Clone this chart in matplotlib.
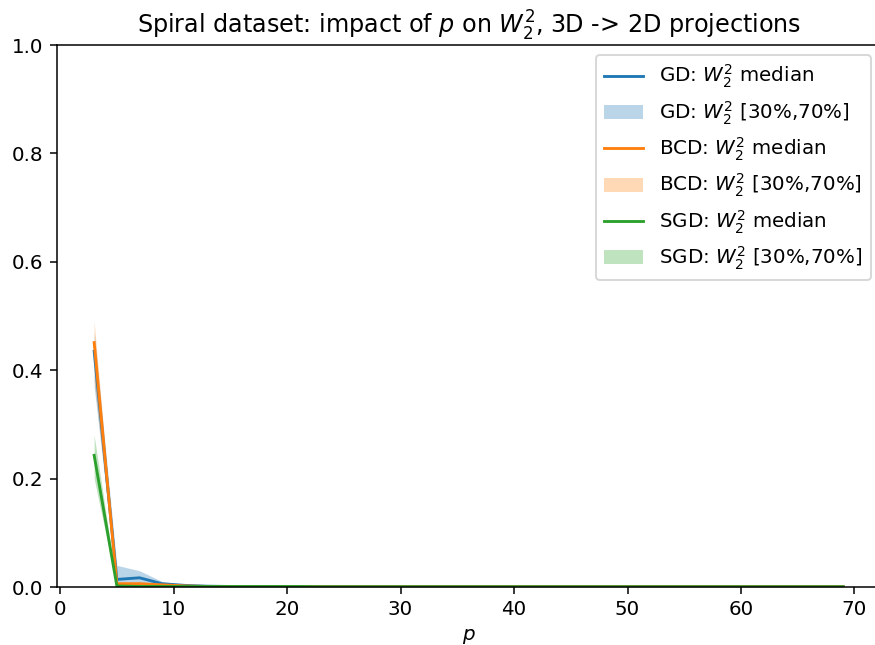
import numpy as np
import matplotlib
matplotlib.use("Agg")
import matplotlib.pyplot as plt

plt.rcParams["font.size"] = 10.45

# p values (3D -> 2D projections)
p = np.arange(3, 70, 2)

# medians and 30%/70% quantiles
tail = [0.001] * 4 + [0.0005] * 24
gd_med = [0.435, 0.014, 0.017, 0.006, 0.003, 0.0015] + tail
gd_lo = [0.37, 0.006, 0.008, 0.003, 0.0015, 0.001] + [0.0003] * 28
gd_hi = [0.47, 0.040, 0.030, 0.010, 0.005, 0.002] + [0.0015] * 28

bcd_med = [0.451, 0.006, 0.006, 0.004, 0.002, 0.001] + tail
bcd_lo = [0.38, 0.003, 0.003, 0.002, 0.001, 0.0005] + [0.0003] * 28
bcd_hi = [0.49, 0.010, 0.010, 0.006, 0.003, 0.0015] + [0.0015] * 28

sgd_med = [0.243, 0.002, 0.001, 0.001, 0.001, 0.001] + tail
sgd_lo = [0.20, 0.001, 0.0005, 0.0005, 0.0005, 0.0005] + [0.0003] * 28
sgd_hi = [0.28, 0.004, 0.002, 0.002, 0.0015, 0.0015] + [0.0015] * 28

series = [
    ("GD", gd_med, gd_lo, gd_hi, "tab:blue"),
    ("BCD", bcd_med, bcd_lo, bcd_hi, "tab:orange"),
    ("SGD", sgd_med, sgd_lo, sgd_hi, "tab:green"),
]

fig = plt.figure(figsize=(875 / 137, 645 / 137), dpi=137)
ax = fig.add_axes([0.0648, 0.0899, 0.9416, 0.8403])

for name, med, lo, hi, col in series:
    ax.plot(p, med, color=col, label=name + r": $W_2^2$ median")
    ax.fill_between(p, lo, hi, color=col, alpha=0.3, linewidth=0,
                    label=name + r": $W_2^2$ [30%,70%]")

ax.set_ylim(0, 1)
ax.set_xlim(-0.3, 72.3)
ax.set_xlabel("$p$")
ax.set_title(r"Spiral dataset: impact of $p$ on $W_2^2$, 3D -> 2D projections")
ax.legend(loc="upper right", labelspacing=0.45)

fig.savefig("out.png", dpi=137)
